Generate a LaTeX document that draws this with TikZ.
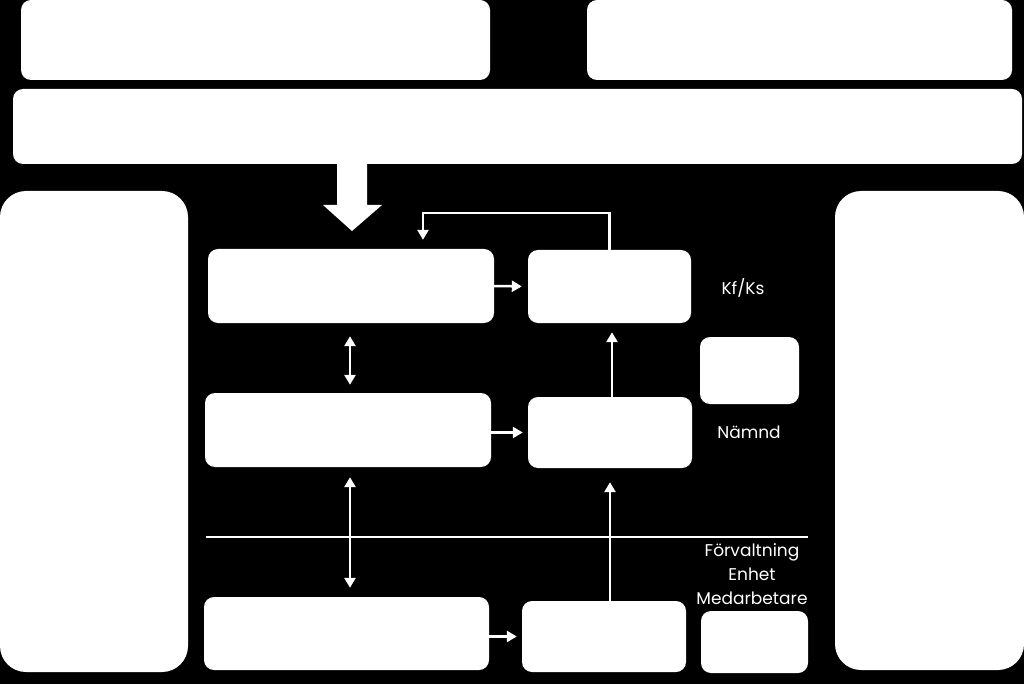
\documentclass[tikz,border=0pt]{standalone}
\usepackage{fontspec}
\setmainfont{Poppins}
\usepackage{tikz}
\usetikzlibrary{arrows.meta, positioning}
\tikzstyle{box} = [rectangle, fill=white, draw=none, rounded corners=10pt, inner sep=0pt]
\tikzstyle{tallbox} = [rectangle, fill=white, draw=none, rounded corners=26pt, inner sep=0pt]
\tikzstyle{lbl} = [text=white, font=\fontsize{17}{24}\selectfont, align=center, inner sep=0pt]
\tikzstyle{line} = [draw=white, line width=2.5pt]
\tikzstyle{arr} = [line, -{Triangle[length=10pt,width=11pt]}]
\tikzstyle{darr} = [line, {Triangle[length=10pt,width=11pt]}-{Triangle[length=10pt,width=11pt]}]

\begin{document}
\begin{tikzpicture}[x=1pt, y=-1pt]
			\fill [black] (0,0) rectangle (1024,684);
			\useasboundingbox (0,0) rectangle (1024,684);

			\node [box, minimum width=469pt, minimum height=80pt] (topl) at (255.5, 40) {};
			\node [box, minimum width=425pt, minimum height=80pt] (topr) at (799.5, 40) {};
			\node [box, minimum width=1009pt, minimum height=75pt] (wide) at (517.5, 126.5) {};
			\node [tallbox, minimum width=188pt, minimum height=481pt] (left) at (94, 431.5) {};
			\node [tallbox, minimum width=189pt, minimum height=479pt] (right) at (929.5, 430.5) {};

			\node [box, minimum width=286pt, minimum height=74pt] (a1) at (351, 286) {};
			\node [box, minimum width=163pt, minimum height=73pt] (b1) at (609.5, 286.5) {};
			\node [box, minimum width=286pt, minimum height=74pt] (a2) at (348, 430) {};
			\node [box, minimum width=164pt, minimum height=71pt] (b2) at (610, 432.5) {};
			\node [box, minimum width=285pt, minimum height=73pt] (a3) at (346.5, 633.5) {};
			\node [box, minimum width=164pt, minimum height=71pt] (b3) at (604, 636.5) {};
			\node [box, minimum width=99pt, minimum height=67pt] (s1) at (749.5, 370.5) {};
			\node [box, minimum width=107pt, minimum height=62pt] (s2) at (754.5, 642) {};

			\node [lbl] (kfks) at (743, 288) {Kf/Ks};
			\node [lbl] (namnd) at (749, 432) {Nämnd};
			\node [lbl] (forv) at (752, 574) {Förvaltning\\Enhet\\Medarbetare};

			% big arrow down from the wide box
			\fill [white] (337,164) -- (367,164) -- (367,205) -- (382,205)
				-- (352,231) -- (323,205) -- (337,205) -- cycle;

			\coordinate (sepl) at (206, 537);
			\coordinate (sepr) at (808, 537);
			\path [line] (sepl) -- (sepr);

			\path [arr, shorten >=6pt] (a1.east) -- (b1.west);
			\path [arr, shorten >=5pt] (a2.east |- b2.west) -- (b2.west);
			\path [arr, shorten >=5pt] (a3.east |- b3.west) -- (b3.west);
			\path [darr, shorten <=13pt, shorten >=8pt] ([xshift=-1pt]a1.south) -- ([xshift=2pt]a2.north);
			\path [darr, shorten <=10pt, shorten >=9pt] ([xshift=2pt]a2.south) -- ([xshift=3.5pt]a3.north);
			\path [arr, shorten >=9pt] ([xshift=2pt]b2.north) -- ([xshift=2.5pt]b1.south);
			\path [arr, shorten >=14pt] ([xshift=6pt]b3.north) -- (b2.south);
			\path [arr, shorten >=9pt] (b1.north) -- ++(0,-37) -| ([xshift=72pt]a1.north);
		\end{tikzpicture}
\end{document}
